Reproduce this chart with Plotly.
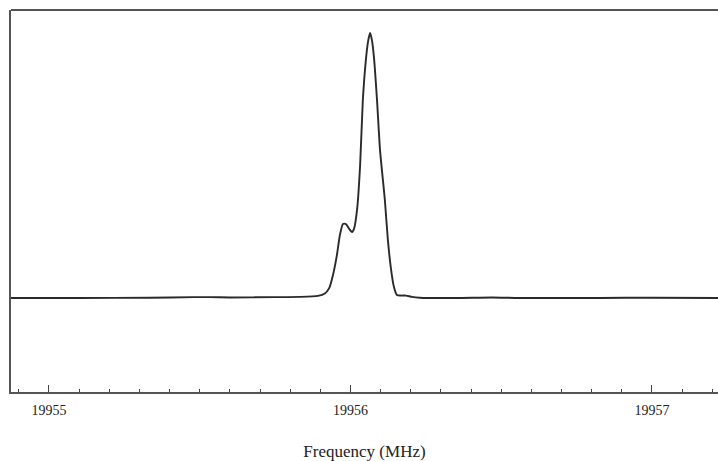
import plotly.graph_objects as go

# Frequency (MHz) and relative intensity
freq = [19954.874, 19955.100, 19955.335, 19955.480, 19955.530, 19955.600, 19955.750,
        19955.833, 19955.892, 19955.915, 19955.929, 19955.942, 19955.955, 19955.965,
        19955.975, 19955.985, 19955.995, 19956.005, 19956.012, 19956.022, 19956.032,
        19956.041, 19956.051, 19956.058, 19956.065, 19956.071, 19956.078, 19956.088,
        19956.098, 19956.114, 19956.124, 19956.134, 19956.144, 19956.154, 19956.167,
        19956.184, 19956.204, 19956.230, 19956.350, 19956.470, 19956.560, 19956.828,
        19957.000, 19957.219]
intensity = [0.000, 0.000, 0.001, 0.003, 0.003, 0.002, 0.003,
             0.004, 0.008, 0.017, 0.036, 0.087, 0.162, 0.238,
             0.279, 0.279, 0.262, 0.249, 0.262, 0.335, 0.502,
             0.747, 0.898, 0.966, 1.000, 0.974, 0.906, 0.747,
             0.558, 0.370, 0.219, 0.113, 0.042, 0.011, 0.009,
             0.009, 0.004, 0.001, 0.000, 0.002, 0.000, 0.000,
             0.001, 0.000]

x_ticks = [19955, 19956, 19957]
x_title = "Frequency (MHz)"

fig = go.Figure()
fig.add_trace(go.Scatter(
    x=freq, y=intensity, mode="lines",
    line=dict(color="#2a2a2a", width=1.9, shape="spline", smoothing=0.6),
    hoverinfo="skip", showlegend=False,
))

fig.add_shape(type="line", xref="paper", yref="paper", x0=0, x1=1, y0=1, y1=1,
              line=dict(color="#555", width=2))

fig.update_layout(
    width=718, height=461,
    margin=dict(l=11, r=0, t=10, b=69),
    paper_bgcolor="white", plot_bgcolor="white",
    font=dict(family="Liberation Serif", color="#222"),
    xaxis=dict(
        range=[19954.874, 19957.219],
        tickvals=x_ticks, ticktext=[str(v) for v in x_ticks],
        ticks="inside", ticklen=7, tickwidth=1.2, tickcolor="#444",
        minor=dict(dtick=0.1, tick0=19955, ticks="inside", ticklen=3, tickwidth=1.2, tickcolor="#444"),
        showline=True, linecolor="#555", linewidth=2, mirror=False,
        showgrid=False, zeroline=False,
        tickfont=dict(size=14, family="Liberation Serif", color="#222"),
        ticklabelstandoff=4,
        title=dict(text=x_title, font=dict(size=17, family="Liberation Serif", color="#222"), standoff=28),
    ),
    yaxis=dict(
        range=[-0.355, 1.087],
        showticklabels=False, ticks="",
        showline=True, linecolor="#555", linewidth=2,
        showgrid=False, zeroline=False,
    ),
)

fig.write_html("out.html")
